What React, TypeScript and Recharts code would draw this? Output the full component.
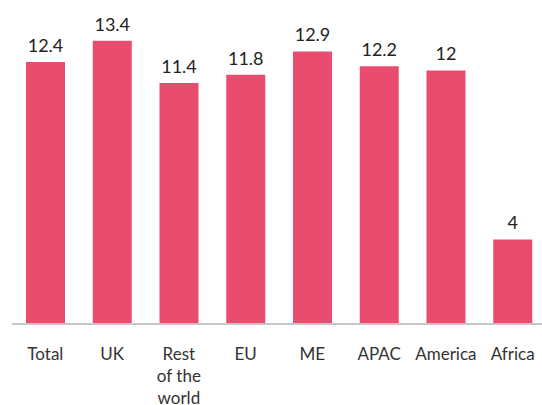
import { BarChart, Bar, XAxis, YAxis, LabelList } from "recharts";

const regions = ["Total", "UK", "Rest of the world", "EU", "ME", "APAC", "America", "Africa"];
const scores = [12.4, 13.4, 11.4, 11.8, 12.9, 12.2, 12, 4];

const data = regions.map((name, i) => ({ name, value: scores[i] }));

const FONT = "Lato, 'Open Sans', sans-serif";

const wrapLabel = (text: string) => {
  if (text === "Rest of the world") return ["Rest", "of the", "world"];
  return [text];
};

const CategoryTick = ({ x, y, payload }: { x?: number; y?: number; payload?: { value: string } }) => {
  const lines = wrapLabel(payload?.value ?? "");
  return (
    <text
      x={x}
      y={(y ?? 0) + 28}
      textAnchor="middle"
      fill="#333"
      fontSize={17}
      fontFamily={FONT}
    >
      {lines.map((l, i) => (
        <tspan key={i} x={x} dy={i === 0 ? 0 : 22}>
          {l}
        </tspan>
      ))}
    </text>
  );
};

export default function App() {
  return (
    <div style={{ position: "absolute", left: 0, top: 0, width: 542, height: 405, overflow: "hidden", background: "#fff" }}>
      <BarChart
        width={546}
        height={405}
        data={data}
        margin={{ top: 7, right: 0, left: 12, bottom: 0 }}
      >
        <XAxis
          dataKey="name"
          tick={<CategoryTick />}
          tickLine={false}
          axisLine={{ stroke: "#c6c6c6", strokeWidth: 2 }}
          interval={0}
          height={81}
        />
        <YAxis hide domain={[0, 15]} />
        <Bar dataKey="value" fill="#EA4C6F" barSize={39} isAnimationActive={false}>
          <LabelList
            dataKey="value"
            position="top"
            offset={10}
            fill="#222"
            fontSize={18}
            fontFamily={FONT}
          />
        </Bar>
      </BarChart>
    </div>
  );
}
